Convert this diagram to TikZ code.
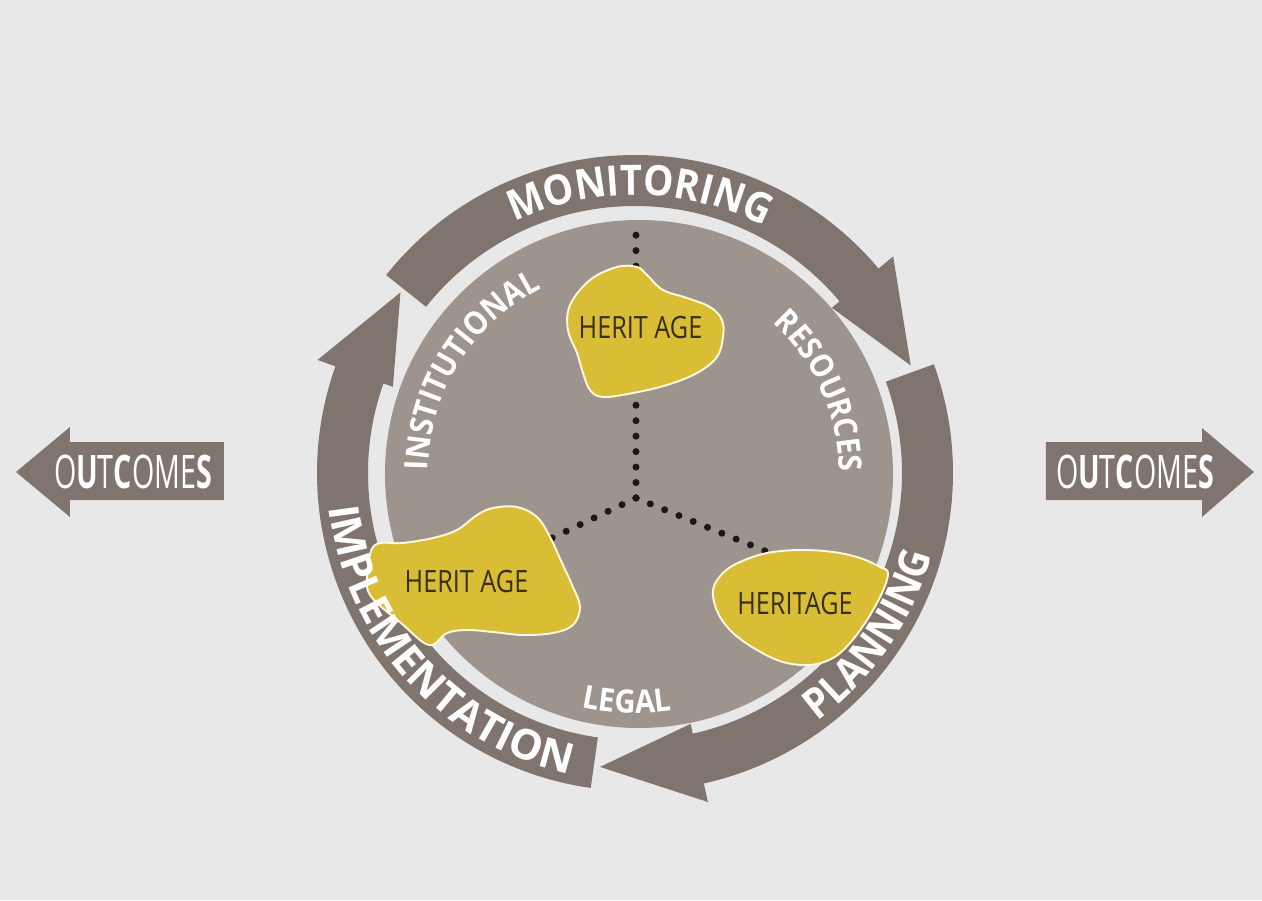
\documentclass[tikz,border=0pt]{standalone}
\usepackage{fontspec}
\setmainfont{Open Sans}
\newfontfamily\ringfamily[FakeStretch=0.91]{Open Sans}
\newfontfamily\blobfont[FakeStretch=0.82]{Open Sans}
\newfontfamily\outfont[FakeStretch=0.62]{Open Sans}
\usetikzlibrary{decorations.text}
\definecolor{pagegray}{RGB}{232,232,232}
\definecolor{ringtaupe}{RGB}{127,117,110}
\definecolor{disctaupe}{RGB}{157,148,142}
\definecolor{heritgold}{RGB}{217,189,52}
\definecolor{heritink}{RGB}{58,46,28}
\definecolor{blobedge}{RGB}{255,248,220}
\newcommand{\ringfont}{\ringfamily\bfseries\fontsize{23.9pt}{24pt}\selectfont}
\newcommand{\widefont}{\bfseries\fontsize{23.9pt}{24pt}\selectfont}
\newcommand{\discfont}{\ringfamily\bfseries\fontsize{18.3pt}{19pt}\selectfont}

\begin{document}
\begin{tikzpicture}[x=0.02cm, y=0.02cm,
      ring/.style={fill=ringtaupe},
      blob/.style={fill=heritgold, draw=blobedge, line width=1.1pt},
      dots/.style={draw=black!90, line width=4pt, line cap=round,
                   dash pattern=on 0pt off 8.8pt},
      ringtext/.style={decorate, decoration={text along path,
                   text align=center, text color=white, text={|\ringfont|#1}}},
      widetext/.style={decorate, decoration={text along path,
                   text align=center, text color=white, text={|\widefont|#1}}},
      disctext/.style={decorate, decoration={text along path,
                   text align=center, text color=white, text={|\discfont|#1}}},
      blobtext/.style={font=\blobfont\fontsize{17.5pt}{18pt}\selectfont,
                   text=heritink, inner sep=0pt},
      outtext/.style={font=\outfont\fontsize{26.3pt}{27pt}\selectfont,
                   text=white, inner sep=0pt}
    ]
    \fill[pagegray] (-635,-427) rectangle (627,473);
    \useasboundingbox (-635,-427) rectangle (627,473);

    \fill[disctaupe] (4,-1) circle[radius=254];

    \coordinate (hub) at (1,-25);
    \coordinate (topend) at (1,253);
    \coordinate (leftend) at (-83,-65);
    \coordinate (rightend) at (140,-82);
    \draw[dots] (hub) -- (topend);
    \draw[dots] (hub) -- (leftend);
    \draw[dots] (hub) -- (rightend);

    \foreach \tail/\base/\tip in {141.5/40/21.3, 20/-77.5/-96.8, 262/160.4/142.4}
      \fill[ring] (\tail:318) arc[start angle=\tail, end angle=\base, radius=318]
        -- (\base:337) -- (\tip:296) -- (\base:257) -- (\base:267)
        arc[start angle=\base, end angle=\tail, radius=267] -- cycle;

    \path[disctext=INSTITUTIONAL] (208:207) arc[start angle=208, end angle=88, radius=207];
    \path[disctext=RESOURCES] (69:204) arc[start angle=69, end angle=-21, radius=204];
    \path[disctext=LEGAL] (-132:240) arc[start angle=-132, end angle=-52, radius=240];

    \fill[blob] plot[smooth cycle, tension=0.6] coordinates {
      (-65,168) (-45,193) (-18,206) (2,206) (12,198) (28,183) (52,175)
      (75,166) (87,153) (88,136) (82,116) (62,100) (32,88) (-2,80)
      (-32,76) (-45,83) (-52,100) (-58,120) (-67,143)};
    \fill[blob] plot[smooth cycle, tension=0.6] coordinates {
      (-260,-72) (-232,-70) (-202,-65) (-178,-57) (-158,-42) (-142,-35)
      (-118,-34) (-98,-44) (-85,-64) (-73,-90) (-62,-114) (-55,-134)
      (-62,-152) (-82,-160) (-112,-162) (-142,-159) (-168,-157) (-188,-160)
      (-206,-172) (-234,-150) (-265,-122) (-267,-97)};
    \fill[blob] plot[smooth cycle, tension=0.6] coordinates {
      (78,-117) (88,-100) (105,-89) (132,-80) (165,-77) (198,-79) (225,-85)
      (245,-94) (253,-100) (247,-120) (232,-147) (215,-170) (198,-185)
      (175,-192) (148,-189) (122,-177) (98,-160) (83,-140)};

    \node[blobtext] (heritagetop) at (5.5,145.5) {HERIT AGE};
    \node[blobtext] (heritageleft) at (-168.5,-109) {HERIT AGE};
    \node[blobtext] (heritageright) at (160,-131) {HERITAGE};

    \path[ringtext=MONITORING] (134:278) arc[start angle=134, end angle=44, radius=278];
    \path[ringtext=PLANNING] (-80:308) arc[start angle=-80, end angle=11, radius=308];
    \path[widetext=IMPLEMENTATION] (162:308) arc[start angle=162, end angle=282, radius=308];

    \fill[ring] (-411,31) -- (-565,31) -- (-565,46) -- (-619,1) -- (-565,-44)
      -- (-565,-27) -- (-411,-27) -- cycle;
    \fill[ring] (411,31) -- (567,31) -- (567,45) -- (619,1) -- (567,-44)
      -- (567,-27) -- (411,-27) -- cycle;
    \node[outtext] (outleft) at (-502,1) {O\textbf{U}T\textbf{C}OME\textbf{S}};
    \node[outtext] (outright) at (500,1) {O\textbf{U}T\textbf{C}OME\textbf{S}};
  \end{tikzpicture}
\end{document}
